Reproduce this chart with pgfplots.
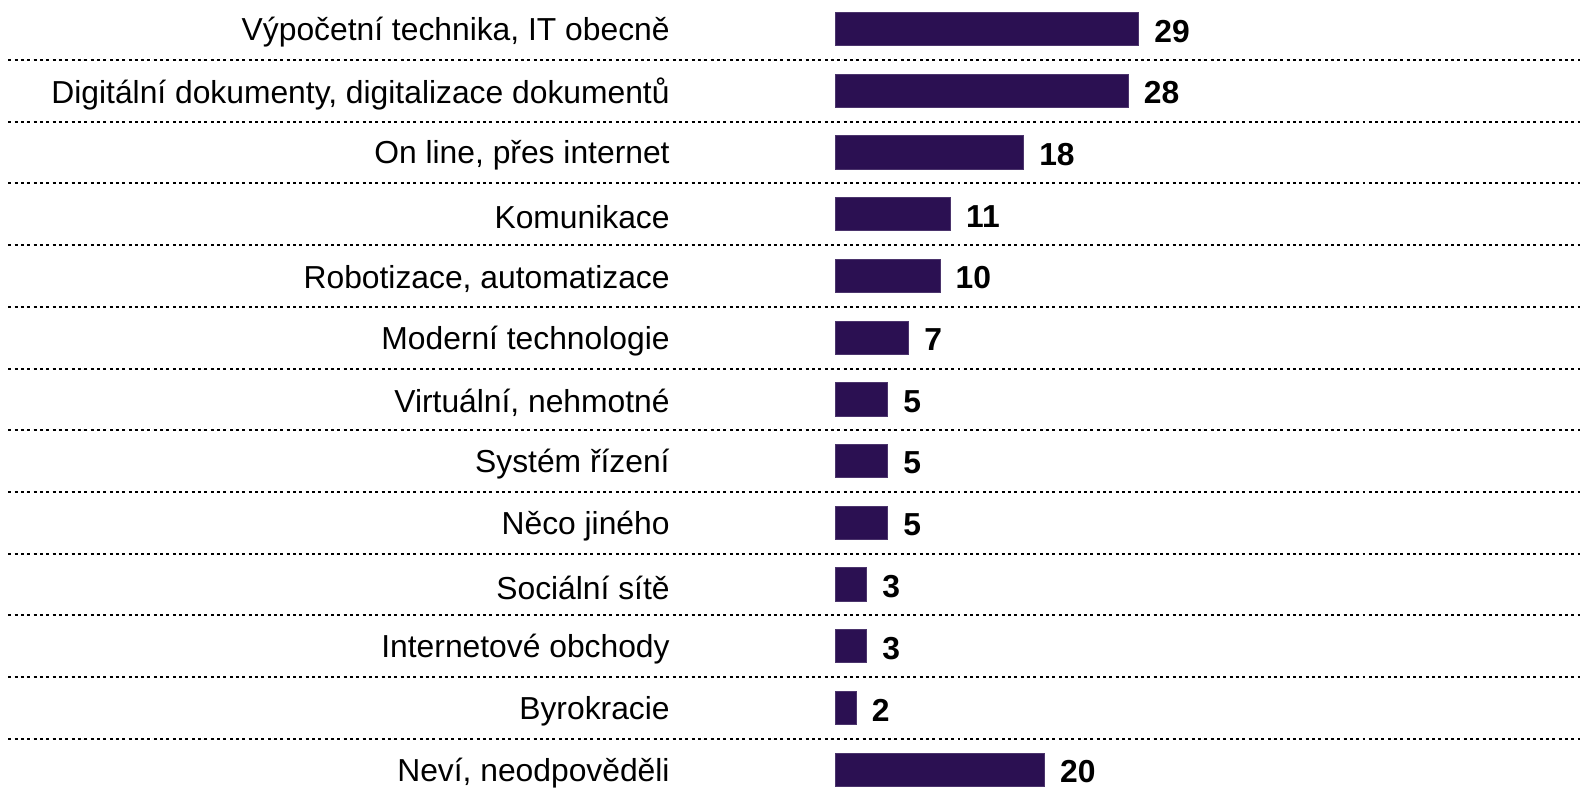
\documentclass[border=0pt]{standalone}
\usepackage{fontspec}
\setmainfont{Liberation Sans}
\usepackage{pgfplots}
\pgfplotsset{compat=1.18}
\definecolor{barc}{HTML}{2B1052}
\begin{document}
\begin{tikzpicture}
\begin{axis}[
  scale only axis,
  width=474.3pt,
  height=238.5pt,
  xmin=-79.87, xmax=71.19,
  ymin=-0.4, ymax=12.473,
  xbar,
  bar width=0.54,
  axis line style={draw=none},
  xtick=\empty,
  ytick={0,...,12},
  major tick length=0pt,
  yticklabels={{Neví, neodpověděli},Byrokracie,Internetové obchody,Sociální sítě,Něco jiného,Systém řízení,{Virtuální, nehmotné},Moderní technologie,{Robotizace, automatizace},Komunikace,{On line, přes internet},{Digitální dokumenty, digitalizace dokumentů},{Výpočetní technika, IT obecně}},
  yticklabel style={anchor=east, inner sep=0pt, xshift=201.15pt, yshift=-0.9pt, font=\fontsize{9.55}{11}\selectfont},
  nodes near coords,
  nodes near coords style={anchor=west, inner sep=0pt, xshift=4.5pt, yshift=-0.6pt, font=\fontsize{9.55}{11}\selectfont\bfseries},
  /pgf/number format/assume math mode=true,
  clip=false,
]
\pgfplotsinvokeforeach{0.5,1.5,...,11.5}{
  \draw[black, line width=0.6pt, dash pattern=on 0.9pt off 1.0pt] (axis cs:-79.11,#1) -- (axis cs:71.19,#1);
}
\addplot[fill=barc, draw=barc!85!white, line width=0.3pt] coordinates {
  (20,0) (2,1) (3,2) (3,3) (5,4) (5,5) (5,6)
  (7,7) (10,8) (11,9) (18,10) (28,11) (29,12)
};
\end{axis}
\end{tikzpicture}
\end{document}
